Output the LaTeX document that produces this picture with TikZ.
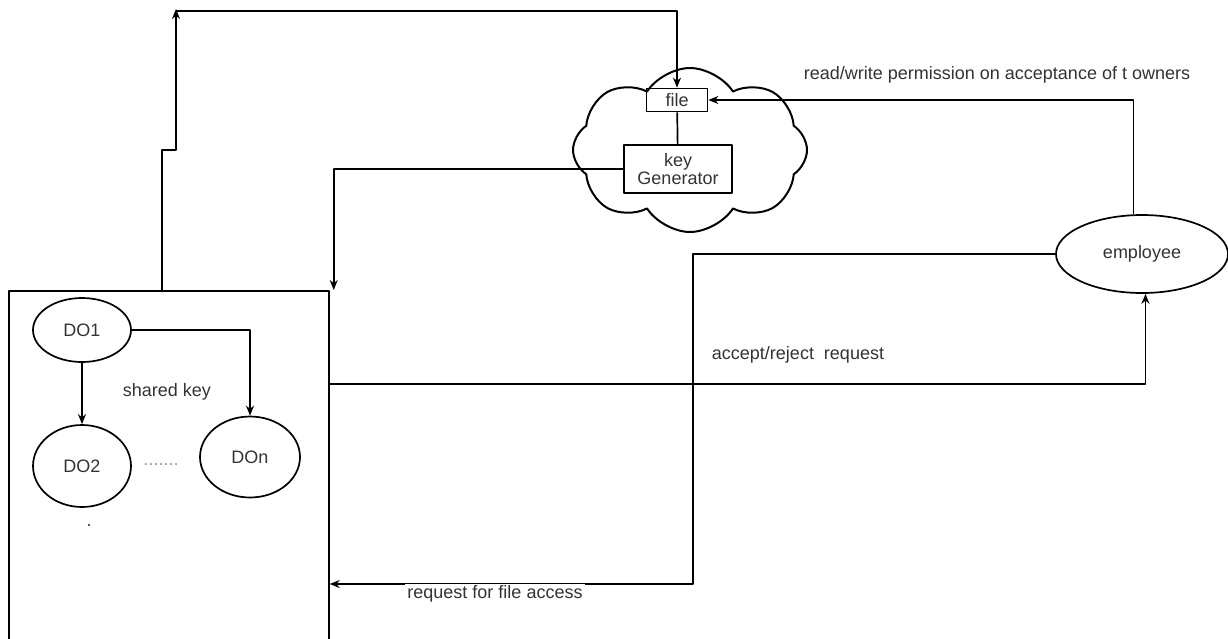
\documentclass[tikz,border=0pt]{standalone}
\usepackage{fontspec}
\setmainfont{Liberation Sans}
\usetikzlibrary{arrows.meta,shapes.geometric,shapes.symbols}

\begin{document}
\begin{tikzpicture}[>={Stealth[length=10pt,width=8pt]},line join=round,x=1pt,y=-1pt,line width=1.7pt,
	font=\fontsize{18}{21}\selectfont,
	box/.style={draw,rectangle,inner sep=0pt,text=black!80},
	owner/.style={draw,ellipse,inner sep=0pt,text=black!80},
	lbl/.style={text=black!80,inner sep=2pt}]
	\useasboundingbox (0,0) rectangle (1228,638);
	% cloud holding the file and the key generator
	\node[draw,line width=2pt,cloud,cloud puffs=8,cloud puff arc=115,aspect=1.4,
		minimum width=234,minimum height=164] (cloud) at (690,150) {};
	\node[box,minimum width=61,minimum height=23] (file) at (677,100) {file};
	\node[box,minimum width=108,minimum height=48,align=center] (keygen) at (678,169) {key\\[-3pt]Generator};
	\draw (file) -- (keygen);
	% data owners
	\node[draw,rectangle,minimum width=320,minimum height=400,anchor=north west] (owners) at (8,290) {};
	\node[owner,minimum width=98,minimum height=64] (do1) at (82,330) {DO1};
	\node[owner,minimum width=98,minimum height=82] (do2) at (82,466) {DO2};
	\node[owner,minimum width=100,minimum height=81] (don) at (250,457) {DOn};
	\draw[->] (do1) -- (do2);
	\draw[->] (do1.east) -| (don.north);
	\node[lbl] (shared) at (167,392) {shared key};
	\node[lbl,text=black!40] (dots) at (161,465) {.......};
	\node[lbl] (dot) at (89,526) {.};
	% employee
	\node[owner,minimum width=172,minimum height=78] (emp) at (1142,254) {employee};
	% connectors
	\coordinate (corner) at (176,11);
	\draw[->] ([xshift=154]owners.north west) |- (176,150) -- ([yshift=2]corner);
	\draw[->] (corner) -| (file.north);
	\draw[->] (keygen.west) -| ([xshift=4]owners.north east);
	\draw[->] (emp.102) |- (file.east);
	\node[lbl] (rw) at (997,75) {read/write permission on acceptance of t owners};
	\coordinate (req) at (693,584);
	\draw[->] (emp.west) -| (req) -- (req -| owners.east);
	\node[lbl,fill=white] (reqlbl) at (495,594) {request for file access};
	\draw[->] (owners.east |- 0,384) -| (emp.-85);
	\node[lbl] (acc) at (798,355) {accept/reject~~request};
\end{tikzpicture}
\end{document}
